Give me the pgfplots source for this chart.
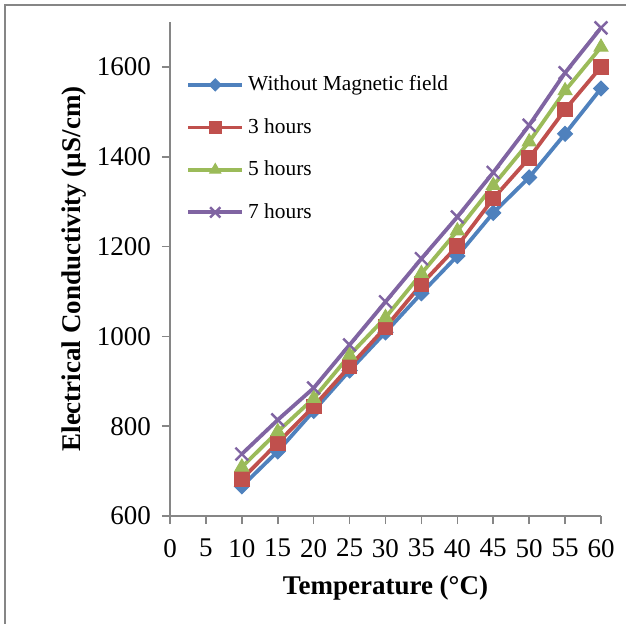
\documentclass[border=0pt]{standalone}
\usepackage{pgfplots}
\pgfplotsset{compat=1.18}
\usepackage{fontspec}
\setmainfont{Liberation Serif}
\definecolor{s1}{HTML}{4F81BD}
\definecolor{s2}{HTML}{C0504D}
\definecolor{s3}{HTML}{9BBB59}
\definecolor{s4}{HTML}{8064A2}
\definecolor{axgray}{HTML}{868686}
\begin{document}
\begin{tikzpicture}
\useasboundingbox (-85pt,-53.5pt) rectangle (228pt,258pt);
\draw[axgray,line width=0.8pt] (-82.5pt,-60pt) -- (-82.5pt,255.5pt) -- (235pt,255.5pt);
\begin{axis}[
  at={(0,0)}, anchor=south west,
  scale only axis,
  width=215.5pt, height=247pt,
  xmin=0, xmax=60, ymin=600, ymax=1700,
  xtick={0,5,...,60},
  ytick={600,800,...,1600},
  axis x line*=bottom, axis y line*=left,
  axis line style={axgray, line width=0.8pt, -},
  tick style={axgray, line width=0.8pt},
  tick align=outside, major tick length=4pt,
  /pgf/number format/assume math mode=true,
  /pgf/number format/1000 sep={},
  tick label style={font=\fontsize{13.5}{15}\selectfont},
  xticklabel style={yshift=-4pt},
  yticklabel style={xshift=-2pt},
  xlabel={\textbf{Temperature (°C)}},
  ylabel={\textbf{Electrical Conductivity (µS/cm)}},
  label style={font=\fontsize{13.5}{15}\selectfont},
  xlabel style={yshift=-2.5pt},
  ylabel style={yshift=-1.5pt},
  legend style={at={(0.023,0.908)}, anchor=north west, draw=none, fill=none,
    font=\fontsize{10.7}{12.5}\selectfont, row sep=8.3pt},
  legend cell align=left,
  legend image code/.code={\draw[mark repeat=2,mark phase=2,every mark/.append style={scale=0.8}] plot coordinates {(0cm,0cm) (0.475cm,0cm) (0.95cm,0cm)};},
  every axis plot/.append style={line width=1.9pt},
]
\addplot[s1, mark=square*, mark size=2.65pt, mark options={rotate=45, fill=s1, line width=0.5pt}] coordinates {
(10,666) (15,744) (20,834) (25,924) (30,1009) (35,1096) (40,1179) (45,1275) (50,1354) (55,1451) (60,1552)};
\addlegendentry{Without Magnetic field}
\addplot[s2, mark=square*, mark size=3.7pt, mark options={fill=s2, line width=0.5pt}] coordinates {
(10,682) (15,763) (20,844) (25,933) (30,1020) (35,1116) (40,1201) (45,1307) (50,1397) (55,1505) (60,1600)};
\addlegendentry{3 hours}
\addplot[s3, mark=triangle*, mark size=4pt, mark options={fill=s3, line width=0.5pt}] coordinates {
(10,709) (15,788) (20,862) (25,958) (30,1042) (35,1140) (40,1235) (45,1336) (50,1433) (55,1547) (60,1644)};
\addlegendentry{5 hours}
\addplot[s4, mark=x, mark size=4.5pt, mark options={line width=1.2pt}] coordinates {
(10,738) (15,814) (20,885) (25,981) (30,1077) (35,1173) (40,1266) (45,1365) (50,1470) (55,1587) (60,1687)};
\addlegendentry{7 hours}
\end{axis}
\end{tikzpicture}
\end{document}
